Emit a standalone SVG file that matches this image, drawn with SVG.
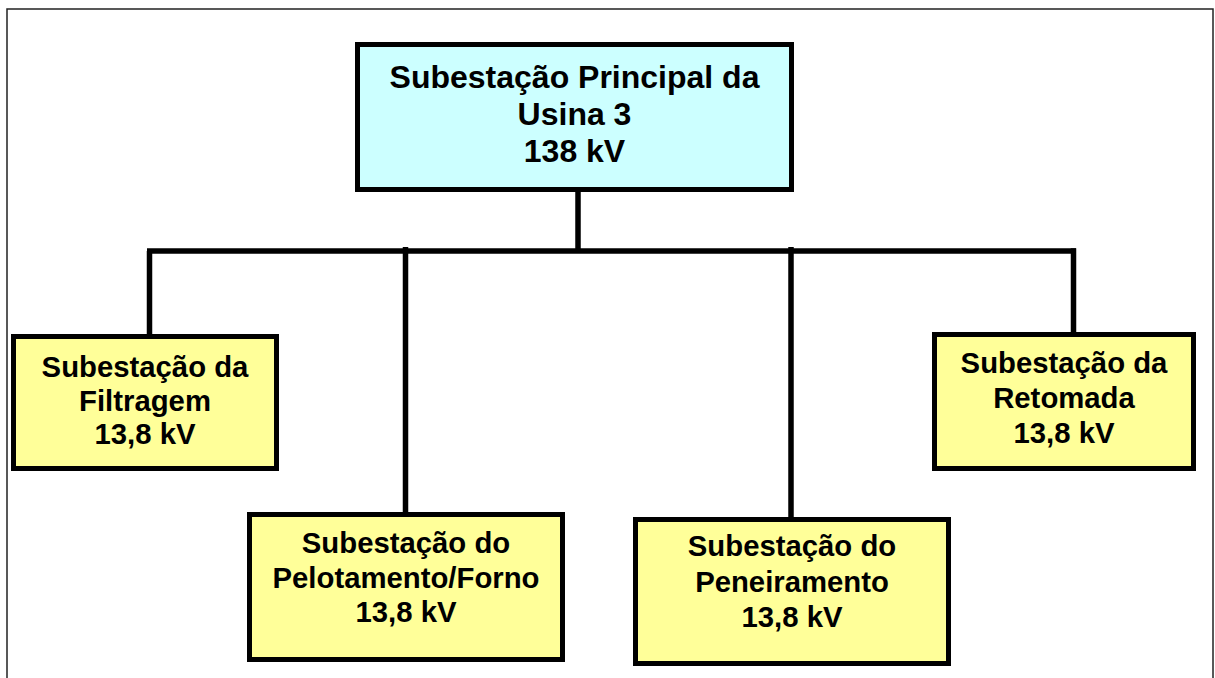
<svg xmlns="http://www.w3.org/2000/svg" width="1215" height="678" viewBox="0 0 1215 678">
<style>
.box{stroke:#000;stroke-width:5}
.main{fill:#CCFFFF}
.sub{fill:#FFFF99}
.t{font-family:"Liberation Sans",Arial,sans-serif;font-weight:bold;fill:#000;text-anchor:middle}
.tm{font-size:32px}
.ts{font-size:29.3px}
.wire{stroke:#000;stroke-width:5.5;fill:none}
</style>
<rect x="7" y="9" width="1206" height="700" fill="#fff" stroke="#222" stroke-width="1.5"/>
<g id="connectors">
<line class="wire" x1="578" y1="191" x2="578" y2="251"/>
<line class="wire" x1="147" y1="251" x2="1076" y2="251"/>
<line class="wire" x1="149.5" y1="251" x2="149.5" y2="335"/>
<line class="wire" x1="405.5" y1="247" x2="405.5" y2="513"/>
<line class="wire" x1="791" y1="247" x2="791" y2="518"/>
<line class="wire" x1="1073.5" y1="248.3" x2="1073.5" y2="334"/>
</g>
<g id="main">
<rect class="box main" x="357.5" y="44.5" width="434" height="145"/>
<text class="t tm" x="574.5" y="88">Subestação Principal da</text>
<text class="t tm" x="574.5" y="125">Usina 3</text>
<text class="t tm" x="574.5" y="162">138 kV</text>
</g>
<g id="filtragem">
<rect class="box sub" x="13.5" y="336.5" width="263" height="132"/>
<text class="t ts" x="145" y="377">Subestação da</text>
<text class="t ts" x="145" y="411">Filtragem</text>
<text class="t ts" x="145" y="444">13,8 kV</text>
</g>
<g id="pelotamento">
<rect class="box sub" x="249.5" y="514.5" width="313" height="145"/>
<text class="t ts" x="406" y="553">Subestação do</text>
<text class="t ts" x="406" y="588">Pelotamento/Forno</text>
<text class="t ts" x="406" y="622">13,8 kV</text>
</g>
<g id="peneiramento">
<rect class="box sub" x="635.5" y="519.5" width="313" height="144"/>
<text class="t ts" x="792" y="556">Subestação do</text>
<text class="t ts" x="792" y="592">Peneiramento</text>
<text class="t ts" x="792" y="627">13,8 kV</text>
</g>
<g id="retomada">
<rect class="box sub" x="934.5" y="334.5" width="259" height="134"/>
<text class="t ts" x="1064" y="373">Subestação da</text>
<text class="t ts" x="1064" y="408">Retomada</text>
<text class="t ts" x="1064" y="443">13,8 kV</text>
</g>
</svg>
